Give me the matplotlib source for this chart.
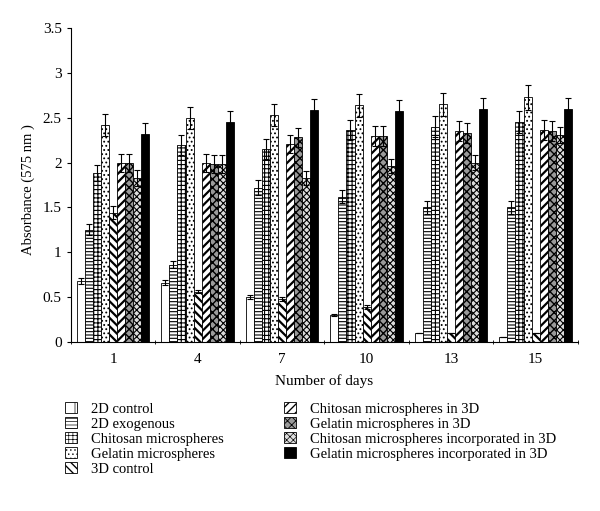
import numpy as np
import matplotlib.pyplot as plt

plt.rcParams['font.family'] = ['Liberation Serif', 'DejaVu Serif']
plt.rcParams['hatch.linewidth'] = 0.8

days = ['1', '4', '7', '10', '13', '15']
series = ['2D control', '2D exogenous', 'Chitosan microspheres', 'Gelatin microspheres',
          '3D control', 'Chitosan microspheres in 3D', 'Gelatin microspheres in 3D',
          'Chitosan microspheres incorporated in 3D', 'Gelatin microspheres incorporated in 3D']

ctrl_2d = [0.68, 0.66, 0.50, 0.30, 0.10, 0.05]
exo_2d = [1.25, 0.86, 1.72, 1.62, 1.50, 1.50]
chit_ms = [1.88, 2.20, 2.15, 2.36, 2.40, 2.45]
gel_ms = [2.42, 2.50, 2.53, 2.64, 2.65, 2.73]
ctrl_3d = [1.44, 0.56, 0.48, 0.39, 0.10, 0.10]
chit_3d = [2.00, 2.00, 2.21, 2.30, 2.35, 2.36]
gel_3d = [2.00, 1.98, 2.28, 2.30, 2.33, 2.35]
chit_inc = [1.83, 1.98, 1.83, 1.96, 2.00, 2.31]
gel_inc = [2.32, 2.45, 2.59, 2.58, 2.60, 2.60]

err_ctrl_2d = [0.03, 0.03, 0.02, 0.01, 0.0, 0.0]
err_exo_2d = [0.06, 0.04, 0.08, 0.07, 0.07, 0.07]
err_chit_ms = [0.09, 0.11, 0.11, 0.11, 0.12, 0.12]
err_gel_ms = [0.12, 0.12, 0.12, 0.13, 0.13, 0.14]
err_ctrl_3d = [0.07, 0.02, 0.02, 0.02, 0.0, 0.0]
err_chit_3d = [0.10, 0.10, 0.10, 0.11, 0.11, 0.11]
err_gel_3d = [0.10, 0.10, 0.11, 0.11, 0.11, 0.11]
err_chit_inc = [0.09, 0.10, 0.08, 0.08, 0.08, 0.09]
err_gel_inc = [0.12, 0.12, 0.12, 0.12, 0.12, 0.12]

values = [ctrl_2d, exo_2d, chit_ms, gel_ms, ctrl_3d, chit_3d, gel_3d, chit_inc, gel_inc]
errors = [err_ctrl_2d, err_exo_2d, err_chit_ms, err_gel_ms, err_ctrl_3d,
          err_chit_3d, err_gel_3d, err_chit_inc, err_gel_inc]

hatches = ['|', '-----', '++++', '....', '\\\\\\\\', '////', 'xxxx', 'xxxxx', '']
hatch_lw = [0.8, 0.8, 0.8, 0.8, 1.6, 1.6, 1.0, 0.8, 0.8]
faces = ['white', 'white', 'white', 'white', 'white', 'white', '#9a9a9a', '#dddddd', 'black']

fig = plt.figure(figsize=(6, 5.11), dpi=100)
ax = fig.add_axes([0.118, 0.331, 0.845, 0.614])

x = np.arange(len(days))
w = 0.095
for i in range(len(series)):
    pos = x + (i - 4) * w
    bars = ax.bar(pos, values[i], w, color=faces[i], edgecolor='black', hatch=hatches[i],
                  linewidth=0.6, label=series[i], zorder=2)
    for b in bars:
        if hasattr(b, 'set_hatch_linewidth'):
            b.set_hatch_linewidth(hatch_lw[i])
    ax.errorbar(pos, values[i], yerr=errors[i], fmt='none', ecolor='black',
                elinewidth=0.8, capsize=2, capthick=0.8, zorder=3)

ax.set_xlim(-0.5, len(days) - 0.5)
ax.set_ylim(0, 3.5)
ax.set_yticks(np.arange(0, 3.51, 0.5))
ax.set_yticklabels(['0', '0.5', '1', '1.5', '2', '2.5', '3', '3.5'])
ax.set_xticks(x)
ax.set_xticklabels(days)
ax.set_xticks(np.arange(-0.5, len(days), 1), minor=True)
ax.tick_params(axis='x', which='major', length=0, labelsize=11, pad=8)
ax.tick_params(axis='x', which='minor', length=3, direction='inout')
ax.tick_params(axis='y', labelsize=11, length=3, direction='out')
ax.spines['top'].set_visible(False)
ax.spines['right'].set_visible(False)
ax.set_xlabel('Number of days', fontsize=11, labelpad=6)
ax.set_ylabel('Absorbance (575 nm )', fontsize=10.5)
ax.yaxis.set_label_coords(-0.07, 0.485)

leg = ax.legend(loc='upper left', bbox_to_anchor=(-0.037, -0.15), ncol=2, frameon=False,
                fontsize=10.5, handlelength=0.8, handleheight=0.8, labelspacing=0.09,
                columnspacing=4.1, handletextpad=1.0)
for p, lw in zip(leg.get_patches(), hatch_lw):
    if hasattr(p, 'set_hatch_linewidth'):
        p.set_hatch_linewidth(lw * 0.6)

fig.savefig('out.png', dpi=100)
